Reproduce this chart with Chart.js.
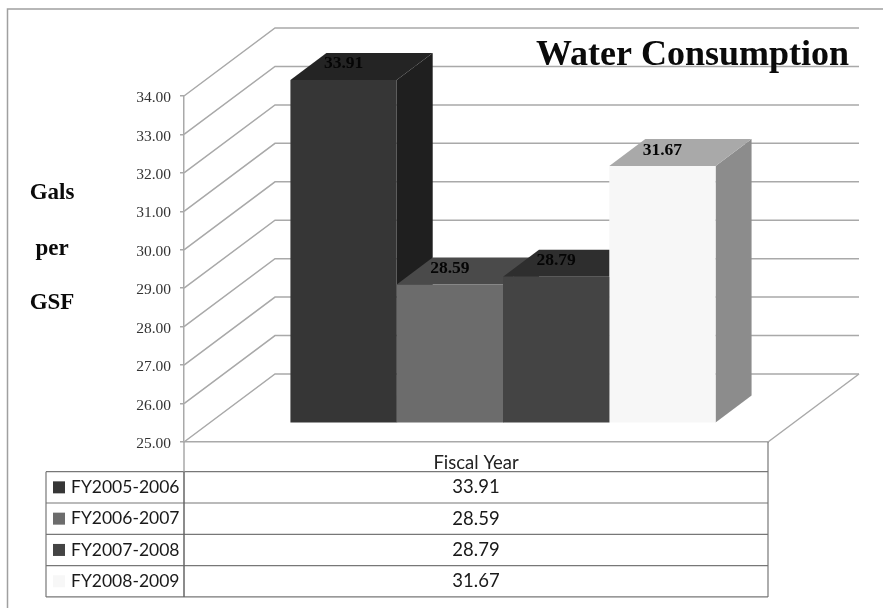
<!DOCTYPE html>
<html>
<head>
<meta charset="utf-8">
<title>Water Consumption</title>
<script src="https://cdn.jsdelivr.net/npm/chart.js@4"></script>
<style>
  html, body { margin: 0; padding: 0; background: #fff; }
  canvas { display: block; }
</style>
</head>
<body>
<canvas id="myChart" width="883" height="608"></canvas>
<script>
const categories = ['Fiscal Year'];
const seriesLabels = ['FY2005-2006', 'FY2006-2007', 'FY2007-2008', 'FY2008-2009'];
const seriesValues = [33.91, 28.59, 28.79, 31.67];
const axisTitle = ['Gals', 'per', 'GSF'];

const frontColors = ['#363636', '#6c6c6c', '#444444', '#f7f7f7'];
const topColors = ['#242424', '#4a4a4a', '#2e2e2e', '#a9a9a9'];
const sideColors = ['#1f1f1f', '#4f4f4f', '#2f2f2f', '#8c8c8c'];

const GRID = '#a9a9a9';
const LINE = '#777777';
const SERIF = '"Liberation Serif"';

// 3d look: how far the back wall and the bars sit from the front plane
const wallX = 91, wallY = 68;
const barShiftX = 27, barShiftY = 19.5;
const depthX = 36, depthY = 27;

function poly(ctx, pts, fill) {
  ctx.beginPath();
  pts.forEach((p, i) => i ? ctx.lineTo(p[0], p[1]) : ctx.moveTo(p[0], p[1]));
  ctx.closePath();
  ctx.fillStyle = fill;
  ctx.fill();
}

function segs(ctx, pts, color, width) {
  ctx.beginPath();
  pts.forEach((p, i) => i ? ctx.lineTo(p[0], p[1]) : ctx.moveTo(p[0], p[1]));
  ctx.strokeStyle = color;
  ctx.lineWidth = width;
  ctx.stroke();
}

const threeD = {
  id: 'threeD',
  beforeDatasetsDraw(chart) {
    const { ctx, scales: { y }, chartArea: a } = chart;
    // walls and floor
    y.ticks.forEach(t => {
      const py = y.getPixelForValue(t.value);
      segs(ctx, [[a.left, py], [a.left + wallX, py - wallY], [a.right + wallX, py - wallY]], GRID, 1.5);
    });
    segs(ctx, [[a.right, a.bottom], [a.right + wallX, a.bottom - wallY]], GRID, 1.5);

    ctx.save();
    ctx.translate(barShiftX, -barShiftY);
    // the sides and tops go first, the library paints the fronts over them
    seriesValues.forEach((v, i) => {
      const bar = chart.getDatasetMeta(i).data[0];
      const l = bar.x - bar.width / 2, r = bar.x + bar.width / 2;
      const top = y.getPixelForValue(v), base = y.getPixelForValue(y.min);
      poly(ctx, [[r, top], [r + depthX, top - depthY], [r + depthX, base - depthY], [r, base]], sideColors[i]);
      poly(ctx, [[l, top], [r, top], [r + depthX, top - depthY], [l + depthX, top - depthY]], topColors[i]);
    });
  },
  afterDatasetsDraw(chart) {
    const { ctx, scales: { y } } = chart;
    ctx.font = 'bold 17.5px ' + SERIF;
    ctx.fillStyle = '#050505';
    ctx.textAlign = 'center';
    ctx.textBaseline = 'middle';
    seriesValues.forEach((v, i) => {
      const bar = chart.getDatasetMeta(i).data[0];
      ctx.fillText(v.toFixed(2), bar.x, y.getPixelForValue(v) - 16);
    });
    ctx.restore();
  }
};

const extras = {
  id: 'extras',
  afterDraw(chart) {
    const { ctx, chartArea: a } = chart;
    ctx.save();

    // outer frame
    segs(ctx, [[7.5, 608], [7.5, 9], [883, 9]], '#a0a0a0', 1.5);

    // title and the y axis caption
    ctx.fillStyle = '#0a0a0a';
    ctx.textBaseline = 'alphabetic';
    ctx.textAlign = 'right';
    ctx.font = 'bold 36px ' + SERIF;
    ctx.fillText('Water Consumption', 849, 65);
    ctx.textAlign = 'center';
    ctx.font = 'bold 23px ' + SERIF;
    [199, 255, 309].forEach((py, i) => ctx.fillText(axisTitle[i], 52, py));

    // data table below the plot
    const tableLeft = 46, rowTop = 471.7, rowH = 31.3;
    const bottom = rowTop + rowH * seriesLabels.length;
    for (let i = 0; i <= seriesLabels.length; i++) {
      const py = rowTop + rowH * i;
      segs(ctx, [[tableLeft, py], [a.right, py]], LINE, 1.2);
    }
    segs(ctx, [[tableLeft, rowTop], [tableLeft, bottom]], LINE, 1.2);
    segs(ctx, [[a.left, a.bottom], [a.left, rowTop]], GRID, 1.5);
    segs(ctx, [[a.left, rowTop], [a.left, bottom]], '#666666', 1.5);
    segs(ctx, [[a.right, a.bottom], [a.right, bottom]], LINE, 1.2);

    ctx.textBaseline = 'middle';
    seriesLabels.forEach((label, i) => {
      const cy = rowTop + rowH * (i + 0.5);
      ctx.fillStyle = frontColors[i];
      ctx.fillRect(53, cy - 6, 12, 12);
      ctx.fillStyle = '#1a1a1a';
      ctx.textAlign = 'left';
      ctx.font = '17.5px Lato';
      ctx.fillText(label, 71, cy);
      ctx.textAlign = 'center';
      ctx.font = '18.5px Lato';
      ctx.fillText(seriesValues[i].toFixed(2), (a.left + a.right) / 2, cy);
    });
    ctx.restore();
  }
};

const config = {
  type: 'bar',
  data: {
    labels: categories,
    datasets: seriesLabels.map((label, i) => ({
      label: label,
      data: [seriesValues[i]],
      backgroundColor: frontColors[i],
      borderWidth: 0,
      categoryPercentage: 0.728,
      barPercentage: 1
    }))
  },
  options: {
    responsive: false,
    animation: false,
    layout: { padding: { left: 0, top: 96, right: 115, bottom: 0 } },
    plugins: {
      legend: { display: false },
      title: { display: false },
      tooltip: { enabled: false }
    },
    scales: {
      x: {
        afterFit: s => { s.height = 166; },
        grid: { drawOnChartArea: false, drawTicks: false },
        border: { color: GRID, width: 1.5 },
        ticks: {
          padding: 10,
          maxRotation: 0,
          color: '#222',
          font: { family: 'Lato', size: 18.5 }
        }
      },
      y: {
        min: 25,
        max: 34,
        afterFit: s => { s.width = 184; },
        grid: { drawOnChartArea: false, tickLength: 4, color: GRID, lineWidth: 1.5 },
        border: { color: GRID, width: 1.5 },
        ticks: {
          stepSize: 1,
          padding: 9,
          labelOffset: 2,
          color: '#333',
          font: { family: SERIF, size: 15.5 },
          callback: v => v.toFixed(2)
        }
      }
    }
  },
  plugins: [threeD, extras]
};

const myChart = new Chart(document.getElementById('myChart'), config);
</script>
</body>
</html>
